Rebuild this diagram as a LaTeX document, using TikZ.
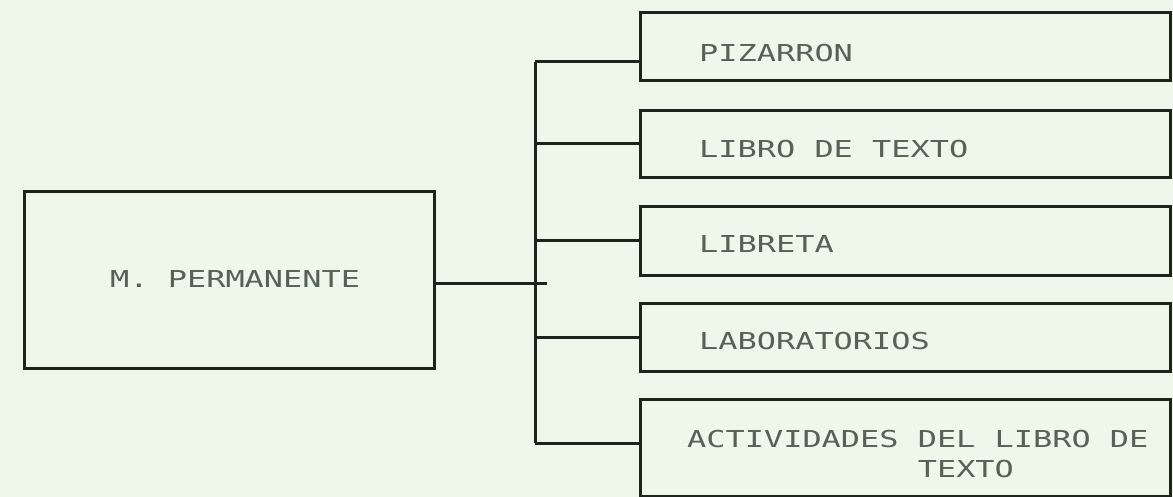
\documentclass[tikz,border=0pt]{standalone}
\usepackage{fontspec}
\newfontfamily\dotfont[FakeStretch=1.37]{DejaVu Sans Mono}
\definecolor{paper}{RGB}{238,248,234}
\definecolor{ink}{RGB}{28,36,28}
\definecolor{printink}{RGB}{88,96,88}
\begin{document}
\begin{tikzpicture}[x=1pt,y=-1pt,
  box/.style={draw=ink, line width=3pt, rectangle, inner sep=0pt,
              minimum width=530pt, anchor=north west},
  lbl/.style={font=\dotfont\fontsize{23.3}{30}\selectfont, text=printink,
              inner sep=0pt, anchor=west, align=left},
  wire/.style={draw=ink, line width=3pt}]
\fill[paper] (0,0) rectangle (1173,497);
\useasboundingbox (0,0) rectangle (1173,497);

% main box
\node[box, minimum width=410pt, minimum height=177pt] (mp) at (23,190) {};
\node[lbl] (mpt) at ([xshift=87pt,yshift=1pt]mp.west) {M. PERMANENTE};

% right boxes
\node[box, minimum height=68pt] (pz) at (639,11) {};
\node[box, minimum height=67pt] (lt) at (639,109) {};
\node[box, minimum height=69pt] (lb) at (639,205) {};
\node[box, minimum height=68pt] (la) at (639,302) {};
\node[box, minimum height=97pt] (ac) at (639,398) {};

\node[lbl] (pzt) at ([xshift=60pt,yshift=-7pt]pz.west) {PIZARRON};
\node[lbl] (ltt) at ([xshift=60pt,yshift=-5pt]lt.west) {LIBRO DE TEXTO};
\node[lbl] (lbt) at ([xshift=60pt,yshift=-3pt]lb.west) {LIBRETA};
\node[lbl] (lat) at ([xshift=60pt,yshift=-4pt]la.west) {LABORATORIOS};
\node[lbl] (act) at ([xshift=48pt,yshift=-6pt]ac.west) {ACTIVIDADES DEL LIBRO DE\\\phantom{ACTIVIDADES\ }TEXTO};

% trunk and connectors
\coordinate (tt) at (535,62);
\coordinate (tb) at (535,443);
\coordinate (mc) at (547,283);
\draw[wire] (tt) -- (tb);
\draw[wire] (tt) -- (tt -| pz.west);
\draw[wire] (lt.west -| tt) -- (lt.west);
\draw[wire] (lb.west -| tt) -- (lb.west);
\draw[wire] (la.west -| tt) -- (la.west);
\draw[wire] (tb) -- (tb -| ac.west);
\draw[wire] (mp.east |- mc) -- (mc);
\end{tikzpicture}
\end{document}
